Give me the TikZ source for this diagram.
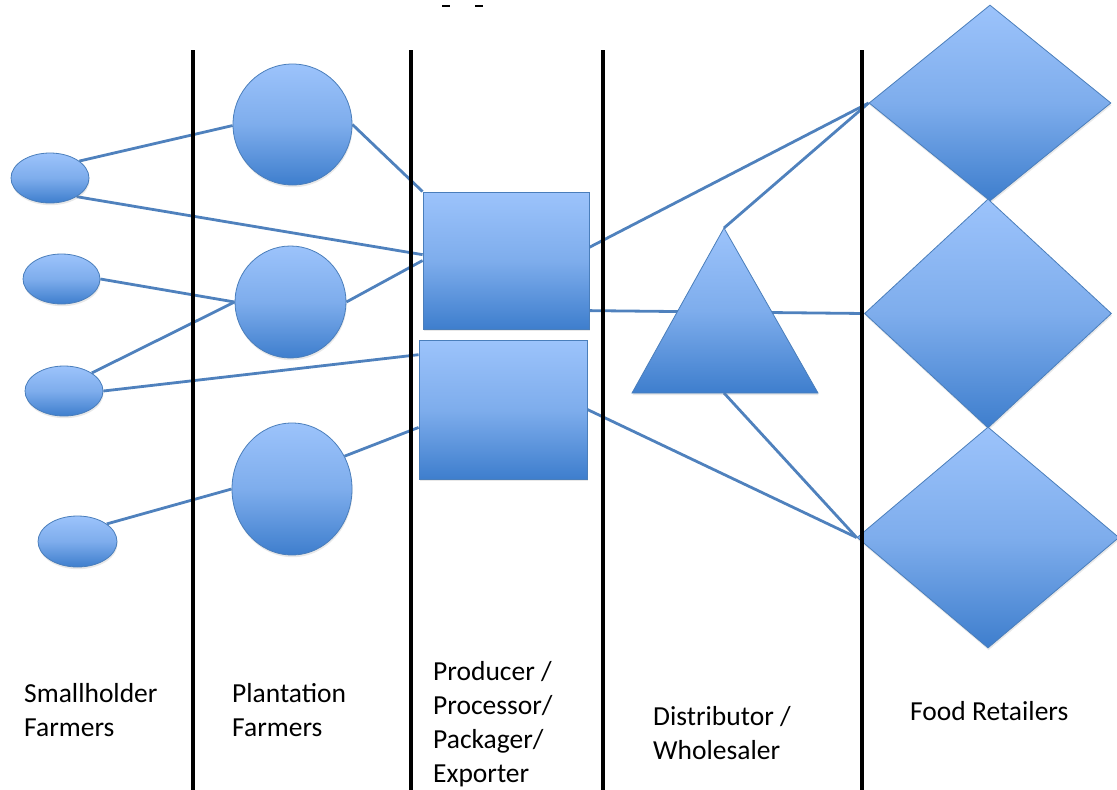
\documentclass[tikz,border=0pt]{standalone}
\usepackage{fontspec}
\setmainfont{Carlito}
\usetikzlibrary{shapes.geometric,shadows}
\pgfdeclarelayer{background}
\pgfdeclarelayer{foreground}
\pgfsetlayers{background,main,foreground}
\definecolor{shtop}{HTML}{9CC3FB}
\definecolor{shbot}{HTML}{3E7ECD}
\definecolor{shline}{HTML}{4A7EBB}
\definecolor{conn}{HTML}{4F81BD}
\tikzset{
  blueshape/.style={draw=shline, line width=0.8pt, top color=shtop, bottom color=shbot, middle color=shtop!68!shbot, inner sep=0pt,
    drop shadow={opacity=0.18, shadow xshift=0.6pt, shadow yshift=-2.2pt}},
  oval/.style={blueshape, ellipse},
  boxshape/.style={blueshape, rectangle},
  diam/.style={blueshape, diamond},
  conline/.style={draw=conn, line width=2.8pt},
  divider/.style={draw=black, line width=4pt},
  lbl/.style={anchor=base west, align=left, inner sep=0pt, font=\fontsize{27.5}{34}\selectfont}
}
\begin{document}
\begin{tikzpicture}[x=1pt,y=-1pt]
\useasboundingbox (0,0) rectangle (1117,790);

% smallholder farmers
\node[oval, minimum width=78, minimum height=50] (e1) at (50,178) {};
\node[oval, minimum width=77, minimum height=50] (e2) at (61.5,279) {};
\node[oval, minimum width=78, minimum height=50] (e3) at (64,391) {};
\node[oval, minimum width=79, minimum height=51] (e4) at (77.5,541.5) {};

% plantation farmers
\node[oval, minimum width=119, minimum height=121] (c1) at (292.5,124.5) {};
\node[oval, minimum width=111, minimum height=112] (c2) at (290.5,302) {};
\node[oval, minimum width=120, minimum height=132] (c3) at (292,489) {};

% producers
\node[boxshape, minimum width=166, minimum height=137] (s1) at (506,260.5) {};
\node[boxshape, minimum width=168, minimum height=139] (s2) at (503,409.5) {};

% distributor triangle
\coordinate (ta) at (724,228);
\coordinate (tl) at (632,393);
\coordinate (tr) at (818,393);
\coordinate (tb) at (724,393);
\path[blueshape] (ta) -- (tr) -- (tl) -- cycle;

% retailers
\node[diam, minimum width=242, minimum height=196] (d1) at (990,103) {};
\node[diam, minimum width=247, minimum height=229] (d2) at (988,313.5) {};
\node[diam, minimum width=262, minimum height=221] (d3) at (988,537.5) {};

% connectors
\begin{pgfonlayer}{background}
\draw[conline] (e1.30) -- (c1.181);
\draw[conline] (e1.-35) -- (s1.176);
\draw[conline] (c1.east) -- (s1.north west);
\draw[conline] (e2.east) -- (c2.west);
\draw[conline] (e3.33) -- (c2.west);
\draw[conline] (e3.east) -- (s2.147);
\draw[conline] (c2.east) -- (s1.west);
\draw[conline] (e4.31) -- (c3.west);
\draw[conline] (c3.32) -- (s2.192);
\draw[conline] (s1.9) -- (d1.west);
\draw[conline] (ta) -- (d1.west);
\draw[conline] (s1.-31) -- (d2.west);
\draw[conline] (s2.east) -- (d3.west);
\draw[conline] (tb) -- (d3.west);
\end{pgfonlayer}

% dividers
\begin{pgfonlayer}{foreground}
\coordinate (v1t) at (193,50);   \coordinate (v1b) at (193,790);
\coordinate (v2t) at (410.5,50); \coordinate (v2b) at (410.5,790);
\coordinate (v3t) at (603,50);   \coordinate (v3b) at (603,790);
\coordinate (v4t) at (862,50);   \coordinate (v4b) at (862,790);
\draw[divider] (v1t) -- (v1b);
\draw[divider] (v2t) -- (v2b);
\draw[divider] (v3t) -- (v3b);
\draw[divider] (v4t) -- (v4b);
\coordinate (m1a) at (442,6); \coordinate (m1b) at (450,6);
\coordinate (m2a) at (475,6); \coordinate (m2b) at (483,6);
\draw[black, line width=2.5pt] (m1a) -- (m1b);
\draw[black, line width=2.5pt] (m2a) -- (m2b);
\end{pgfonlayer}

% labels (anchor = baseline of the last line)
\node[lbl] (lsm) at (24,736) {Smallholder\\Farmers};
\node[lbl] (lpl) at (232,736) {Plantation\\Farmers};
\node[lbl] (lpr) at (433,782) {Producer /\\Processor/\\Packager/\\Exporter};
\node[lbl] (ldi) at (653,759) {Distributor /\\Wholesaler};
\node[lbl] (lfr) at (910,720) {Food Retailers};
\end{tikzpicture}
\end{document}
